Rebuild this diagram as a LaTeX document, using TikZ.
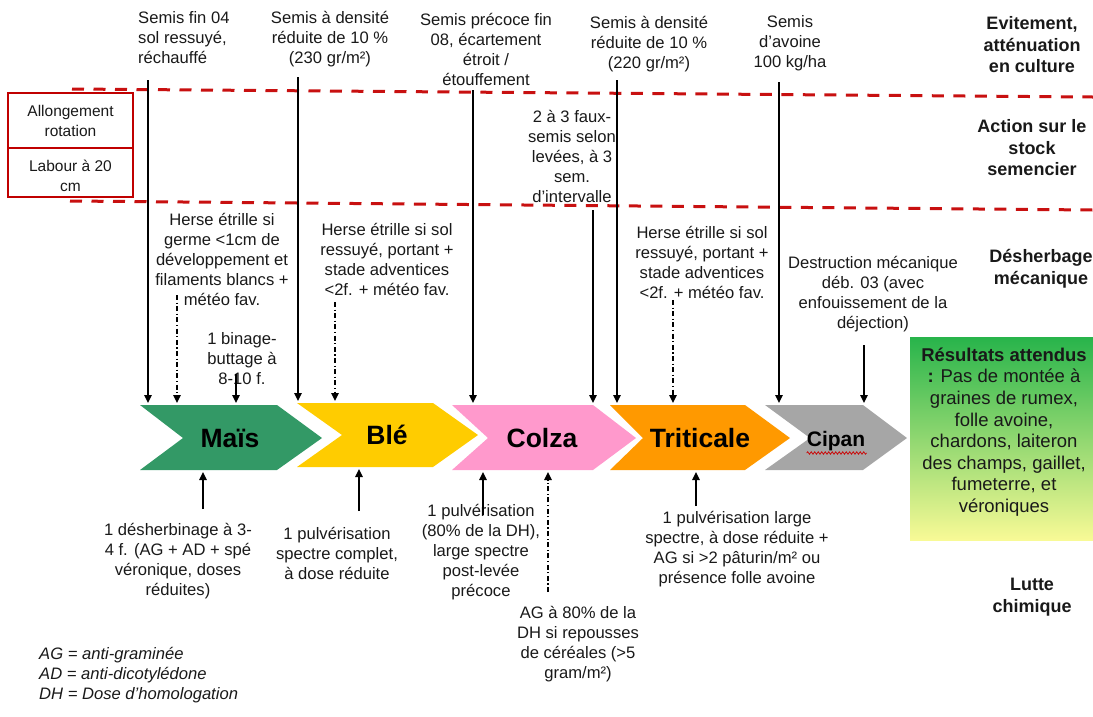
\documentclass[tikz,border=0pt]{standalone}
\usepackage{fontspec}
\setmainfont{Liberation Sans}
\usetikzlibrary{arrows.meta,decorations.pathmorphing}
\definecolor{redl}{RGB}{200,16,16}
\definecolor{redbox}{RGB}{192,0,0}
\definecolor{maisc}{RGB}{51,153,102}
\definecolor{blec}{RGB}{255,204,0}
\definecolor{colzac}{RGB}{255,153,204}
\definecolor{tritc}{RGB}{255,153,0}
\definecolor{cipanc}{RGB}{166,166,166}
\definecolor{txtc}{RGB}{25,25,25}
\definecolor{resA}{RGB}{40,180,75}
\definecolor{resB}{RGB}{140,205,70}
\definecolor{resC}{RGB}{248,250,150}
\begin{document}
\begin{tikzpicture}[x=1pt,y=-1pt,
 txt/.style={font=\fontsize{16.6}{20}\selectfont, align=center, inner sep=0pt, text=txtc},
 lab/.style={font=\fontsize{18}{21.5}\selectfont\bfseries, align=center, inner sep=0pt, text=txtc},
 croplab/.style={font=\fontsize{26.5}{30}\selectfont\bfseries, inner sep=0pt, text=black},
 arr/.style={draw=black, line width=1.3pt, -{Triangle[width=7.5pt,length=8pt]}},
 arrdd/.style={arr, dash pattern=on 5pt off 2.5pt on 1.2pt off 2.5pt},
 redline/.style={draw=redl, line width=3pt, dash pattern=on 12pt off 9.5pt},
 redbx/.style={draw=redbox, line width=2.8pt}]
\useasboundingbox (0,0) rectangle (1093,716);

% dashed separators
\draw[redline] (72,89) -- (1093,97);
\draw[redline] (70,201) -- (1093,210);

% left red boxes
\draw[redbx] (8,93) rectangle (133,197);
\draw[redbx] (8,148) -- (133,148);
\node[txt, font=\fontsize{15.5}{19.5}\selectfont] (allong) at (70.5,121) {Allongement\\rotation};
\node[txt, font=\fontsize{15.5}{19.5}\selectfont] (labour) at (70.5,176) {Labour à 20\\cm};

% chevrons
\fill[maisc] (140,405) -- (277,405) -- (322,438) -- (277,470) -- (140,470) -- (183,438) -- cycle;
\fill[blec] (297,403) -- (433,403) -- (478,435) -- (433,467) -- (297,467) -- (342,435) -- cycle;
\fill[colzac] (452,405) -- (593,405) -- (636,438) -- (593,470) -- (452,470) -- (488,438) -- cycle;
\fill[tritc] (610,405) -- (745,405) -- (790,438) -- (745,470) -- (610,470) -- (643,438) -- cycle;
\fill[cipanc] (765,405) -- (863,405) -- (907,438) -- (863,470) -- (765,470) -- (810,438) -- cycle;
\node[croplab] (mais) at (230,438) {Maïs};
\node[croplab] (ble) at (387,435) {Blé};
\node[croplab] (colza) at (542,438) {Colza};
\node[croplab] (trit) at (700,438) {Triticale};
\node[croplab, font=\fontsize{21}{24}\selectfont\bfseries] (cipan) at (836,441.5) {Cipan};
\draw[redl, line width=0.8pt, decorate, decoration={snake, amplitude=1.2pt, segment length=3.5pt}] (cipan.south west) ++(0,1.5) -- ++(60,0);

% results box
\shade[top color=resA, middle color=resB, bottom color=resC] (910,337) rectangle (1093,540);
\node[txt, font=\fontsize{18.5}{21.6}\selectfont] (res) at (1004,432) {\textbf{Résultats attendus}\\\textbf{:} Pas de montée à\\graines de rumex,\\folle avoine,\\chardons, laiteron\\des champs, gaillet,\\fumeterre, et\\véroniques};

% top texts
\node[txt, align=left, anchor=west] (t1) at (138,38) {Semis fin 04\\sol ressuyé,\\réchauffé};
\node[txt] (t2) at (330,39) {Semis à densité\\réduite de 10 \%\\(230 gr/m²)};
\node[txt] (t3) at (486,49) {Semis précoce fin\\08, écartement\\étroit /\\étouffement};
\node[txt] (t4) at (649,44) {Semis à densité\\réduite de 10 \%\\(220 gr/m²)};
\node[txt] (t5) at (790,43) {Semis\\d’avoine\\100 kg/ha};

% right labels
\node[lab] (l1) at (1032,45) {Evitement,\\atténuation\\en culture};
\node[lab] (l2) at (1032,148) {Action sur le\\stock\\semencier};
\node[lab] (l3) at (1041,269) {Désherbage\\mécanique};
\node[lab] (l4) at (1032,597) {Lutte\\chimique};

% middle texts
\node[txt] (fs) at (572,156) {2 à 3 faux-\\semis selon\\levées, à 3\\sem.\\d’intervalle};
\node[txt] (m1) at (222,259) {Herse étrille si\\germe <1cm de\\développement et\\filaments blancs +\\météo fav.};
\node[txt] (m2) at (387,259) {Herse étrille si sol\\ressuyé, portant +\\stade adventices\\<2f. + météo fav.};
\node[txt] (m3) at (242,359) {1 binage-\\buttage à\\8-10 f.};
\node[txt] (m4) at (702,262) {Herse étrille si sol\\ressuyé, portant +\\stade adventices\\<2f. + météo fav.};
\node[txt] (m5) at (873,294) {Destruction mécanique\\déb. 03 (avec\\enfouissement de la\\déjection)};

% bottom texts
\node[txt] (b1) at (178,561) {1 désherbinage à 3-\\4 f. (AG + AD + spé\\véronique, doses\\réduites)};
\node[txt] (b2) at (337,553) {1 pulvérisation\\spectre complet,\\à dose réduite};
\node[txt] (b3) at (481,552) {1 pulvérisation\\(80\% de la DH),\\large spectre\\post-levée\\précoce};
\node[txt] (b4) at (578,644) {AG à 80\% de la\\DH si repousses\\de céréales (>5\\gram/m²)};
\node[txt] (b5) at (737,549) {1 pulvérisation large\\spectre, à dose réduite +\\AG si >2 pâturin/m² ou\\présence folle avoine};

% legend
\node[txt, align=left, anchor=west, font=\fontsize{16.6}{20}\selectfont\itshape] (leg) at (39,675) {AG = anti-graminée\\AD = anti-dicotylédone\\DH = Dose d’homologation};

% arrow end points
\coordinate (a1s) at (148,80);  \coordinate (a1e) at (148,403);
\coordinate (a2s) at (177,295); \coordinate (a2e) at (177,403);
\coordinate (a3s) at (236,374); \coordinate (a3e) at (236,403);
\coordinate (a4s) at (298,77);  \coordinate (a4e) at (298,401);
\coordinate (a5s) at (335,302); \coordinate (a5e) at (335,401);
\coordinate (a6s) at (473,90);  \coordinate (a6e) at (473,403);
\coordinate (a7s) at (593,210); \coordinate (a7e) at (593,403);
\coordinate (a8s) at (617,80);  \coordinate (a8e) at (617,403);
\coordinate (a9s) at (673,300); \coordinate (a9e) at (673,403);
\coordinate (a10s) at (779,82); \coordinate (a10e) at (779,403);
\coordinate (a11s) at (864,345); \coordinate (a11e) at (864,403);
\coordinate (c1s) at (203,509); \coordinate (c1e) at (203,472);
\coordinate (c2s) at (359,511); \coordinate (c2e) at (359,469);
\coordinate (c3s) at (483,515); \coordinate (c3e) at (483,472);
\coordinate (c4s) at (548,592); \coordinate (c4e) at (548,472);
\coordinate (c5s) at (696,506); \coordinate (c5e) at (696,472);

\draw[arr] (a1s) -- (a1e);
\draw[arrdd] (a2s) -- (a2e);
\draw[arr] (a3s) -- (a3e);
\draw[arr] (a4s) -- (a4e);
\draw[arrdd] (a5s) -- (a5e);
\draw[arr] (a6s) -- (a6e);
\draw[arr] (a7s) -- (a7e);
\draw[arr] (a8s) -- (a8e);
\draw[arrdd] (a9s) -- (a9e);
\draw[arr] (a10s) -- (a10e);
\draw[arr] (a11s) -- (a11e);
\draw[arr] (c1s) -- (c1e);
\draw[arr] (c2s) -- (c2e);
\draw[arr] (c3s) -- (c3e);
\draw[arrdd] (c4s) -- (c4e);
\draw[arr] (c5s) -- (c5e);
\end{tikzpicture}
\end{document}
